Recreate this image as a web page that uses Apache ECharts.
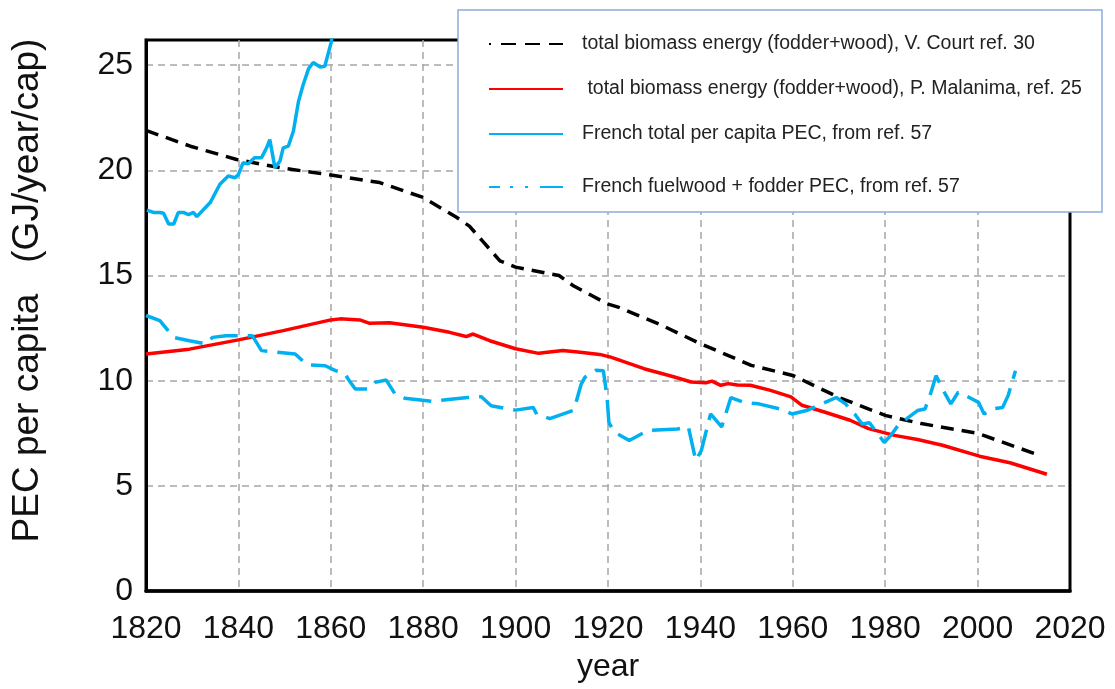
<!DOCTYPE html>
<html>
<head>
<meta charset="utf-8">
<title>PEC per capita</title>
<script src="https://cdn.jsdelivr.net/npm/echarts@6/dist/echarts.min.js"></script>
<style>
  html, body { margin: 0; padding: 0; background: #fff; }
  #chart { width: 1115px; height: 689px; }
</style>
</head>
<body>
<div id="chart"></div>
<script>
// legend / series names
const seriesNames = [
  'total biomass energy (fodder+wood), V. Court ref. 30',
  ' total biomass energy (fodder+wood), P. Malanima, ref. 25',
  'French total per capita PEC, from ref. 57',
  'French fuelwood + fodder PEC, from ref. 57'
];

// V. Court (black dashed)
const courtYears = [1820, 1829.6, 1839.6, 1849, 1860, 1870.6, 1880, 1887.2, 1890, 1893, 1896.6, 1900, 1909.4, 1912.6, 1919.8, 1922.2, 1931, 1940, 1951, 1960, 1970, 1980, 1987.8, 2000, 2013.4];
const courtValues = [21.9, 21.15, 20.52, 20.13, 19.78, 19.42, 18.71, 17.77, 17.35, 16.6, 15.7, 15.4, 15.0, 14.5, 13.66, 13.5, 12.7, 11.76, 10.73, 10.25, 9.2, 8.35, 7.96, 7.5, 6.45];

// P. Malanima (red)
const malanimaYears = [1820, 1829.4, 1840, 1849.7, 1860, 1862, 1866.3, 1868.4, 1872.7, 1880, 1885.7, 1889.3, 1890.8, 1894.4, 1900, 1905, 1910.2, 1914, 1918.2, 1920.6, 1927.8, 1934, 1938, 1941.2, 1942.5, 1944.4, 1946, 1948, 1950.8, 1955, 1959.6, 1962, 1967, 1972.4, 1976.4, 1982, 1987, 1992.4, 2000.4, 2007, 2015];
const malanimaValues = [11.27, 11.5, 11.94, 12.38, 12.89, 12.94, 12.89, 12.73, 12.76, 12.54, 12.3, 12.1, 12.22, 11.9, 11.52, 11.3, 11.44, 11.35, 11.25, 11.12, 10.57, 10.2, 9.94, 9.9, 9.98, 9.78, 9.86, 9.8, 9.78, 9.55, 9.23, 8.83, 8.5, 8.12, 7.72, 7.4, 7.2, 6.93, 6.41, 6.1, 5.55];

// French total per capita PEC (blue solid)
const totalYears = [1820.2, 1821.6, 1823, 1823.8, 1824.9, 1826, 1827, 1828.1, 1829.2, 1830.3, 1831, 1833.9, 1836, 1837.8, 1839.3, 1840, 1841, 1842.1, 1843.5, 1845, 1846.1, 1846.8, 1847.9, 1849, 1849.7, 1850.8, 1851.9, 1853, 1854, 1855.2, 1856.2, 1857.7, 1858.7, 1860.1, 1861, 1862];
const totalValues = [18.11, 18.0, 18.0, 17.96, 17.45, 17.45, 18.0, 18.0, 17.9, 18.0, 17.8, 18.47, 19.34, 19.73, 19.65, 19.8, 20.36, 20.31, 20.6, 20.6, 21.07, 21.46, 20.13, 20.44, 21.07, 21.15, 21.86, 23.27, 24.06, 24.84, 25.13, 24.92, 24.95, 26.1, 27.5, 29.0];

// French fuelwood + fodder PEC (blue dashed)
const fuelYears = [1820, 1823, 1826, 1829.4, 1833, 1834.4, 1837.3, 1843, 1845, 1852.3, 1854.8, 1858.8, 1861, 1863, 1864, 1865.3, 1868.2, 1869.6, 1872, 1873.9, 1876, 1881.8, 1889.6, 1892.6, 1894.7, 1900, 1903.8, 1904.6, 1907.4, 1912.6, 1914.2, 1915, 1917.4, 1919, 1919.8, 1920.2, 1921.4, 1924.6, 1928.6, 1935, 1937.4, 1939, 1940.2, 1942.2, 1944.6, 1946.6, 1949.4, 1952.6, 1957.4, 1959.8, 1963, 1967, 1969.4, 1971.4, 1973.4, 1975, 1976.6, 1979.8, 1981.4, 1983, 1984.6, 1987, 1988.6, 1989.8, 1991, 1992.6, 1994.2, 1995.8, 1998.2, 2000.2, 2001.4, 2003, 2005.4, 2006.6, 2008.2];
const fuelValues = [13.1, 12.86, 12.06, 11.9, 11.75, 12.06, 12.14, 12.14, 11.43, 11.27, 10.76, 10.71, 10.48, 10.35, 10.0, 9.6, 9.6, 9.92, 10.03, 9.37, 9.17, 9.02, 9.2, 9.24, 8.81, 8.6, 8.73, 8.4, 8.2, 8.6, 9.84, 10.16, 10.5, 10.47, 9.2, 8.0, 7.55, 7.16, 7.63, 7.7, 7.8, 6.2, 6.68, 8.42, 7.8, 9.2, 8.97, 8.9, 8.65, 8.42, 8.58, 8.97, 9.2, 8.9, 8.42, 7.94, 8.0, 7.06, 7.45, 7.94, 8.18, 8.58, 8.65, 9.37, 10.24, 9.53, 8.9, 9.45, 9.2, 8.97, 8.42, 8.65, 8.73, 9.29, 10.47];

const zip = (xs, ys) => xs.map((x, i) => [x, ys[i]]);

const myChart = echarts.init(document.getElementById('chart'));
const font = "'Liberation Sans', Arial, sans-serif";
const gridLine = {
  show: true,
  showMinLine: false,
  showMaxLine: false,
  lineStyle: { color: '#a6a6a6', width: 1.5, type: [7, 5] }
};
const legendText = { fontSize: 19.5, color: '#222', fontFamily: font, padding: [0, 0, 0, 14] };

const option = {
  backgroundColor: '#fff',
  animation: false,
  textStyle: { fontFamily: font },
  grid: {
    left: 146,
    right: 45,
    top: 40,
    bottom: 98,
    show: true,
    borderColor: '#000',
    borderWidth: 3
  },
  xAxis: {
    type: 'value',
    min: 1820,
    max: 2020,
    interval: 20,
    name: 'year',
    nameLocation: 'middle',
    nameGap: 60,
    nameTextStyle: { fontSize: 32, color: '#111', fontFamily: font },
    axisLine: { show: true, lineStyle: { color: '#000', width: 3.5 } },
    axisTick: { show: false },
    axisLabel: { fontSize: 32, color: '#111', margin: 22, fontFamily: font, formatter: v => String(v) },
    splitLine: gridLine
  },
  yAxis: {
    type: 'value',
    min: 0,
    max: 26.2,
    interval: 5,
    name: 'PEC per capita   (GJ/year/cap)',
    nameLocation: 'middle',
    nameGap: 100,
    nameTextStyle: { fontSize: 37, color: '#111', fontFamily: font, padding: [0, 0, 0, 50] },
    axisLine: { show: true, lineStyle: { color: '#000', width: 3 } },
    axisTick: { show: false },
    axisLabel: {
      fontSize: 32, color: '#111', margin: 13, fontFamily: font,
      formatter: v => (v % 5 === 0 ? String(v) : '')
    },
    splitLine: gridLine
  },
  // legend box
  graphic: [{
    type: 'rect',
    z: 100,
    shape: { x: 458, y: 10, width: 644, height: 202 },
    style: { fill: '#fff', stroke: '#8faadc', lineWidth: 1.5 }
  }],
  legend: [{
    orient: 'vertical',
    left: 488,
    top: 34,
    z: 110,
    padding: 0,
    itemWidth: 74,
    itemHeight: 20,
    itemGap: 25,
    itemStyle: { opacity: 0 },
    textStyle: legendText,
    data: [
      { name: seriesNames[0], lineStyle: { type: [2, 10, 15, 9, 15, 9, 16, 0] } },
      { name: seriesNames[1] },
      { name: seriesNames[2] }
    ]
  }, {
    orient: 'vertical',
    left: 488,
    top: 177,
    z: 110,
    padding: 0,
    itemWidth: 74,
    itemHeight: 20,
    itemStyle: { opacity: 0 },
    textStyle: legendText,
    data: [
      { name: seriesNames[3], lineStyle: { type: [11, 10, 3, 12, 3, 12, 23, 0] } }
    ]
  }],
  series: [
    {
      name: seriesNames[0],
      type: 'line',
      symbol: 'none',
      data: zip(courtYears, courtValues),
      lineStyle: { color: '#000', width: 3.5, type: [13, 8] },
      itemStyle: { color: '#000' }
    },
    {
      name: seriesNames[1],
      type: 'line',
      symbol: 'none',
      data: zip(malanimaYears, malanimaValues),
      lineStyle: { color: '#ff0000', width: 3.5 },
      itemStyle: { color: '#ff0000' }
    },
    {
      name: seriesNames[2],
      type: 'line',
      symbol: 'none',
      data: zip(totalYears, totalValues),
      lineStyle: { color: '#00b0f0', width: 3.5 },
      itemStyle: { color: '#00b0f0' }
    },
    {
      name: seriesNames[3],
      type: 'line',
      symbol: 'none',
      data: zip(fuelYears, fuelValues),
      lineStyle: { color: '#00b0f0', width: 3.5, type: [28, 10] },
      itemStyle: { color: '#00b0f0' }
    }
  ]
};

myChart.setOption(option);
</script>
</body>
</html>
